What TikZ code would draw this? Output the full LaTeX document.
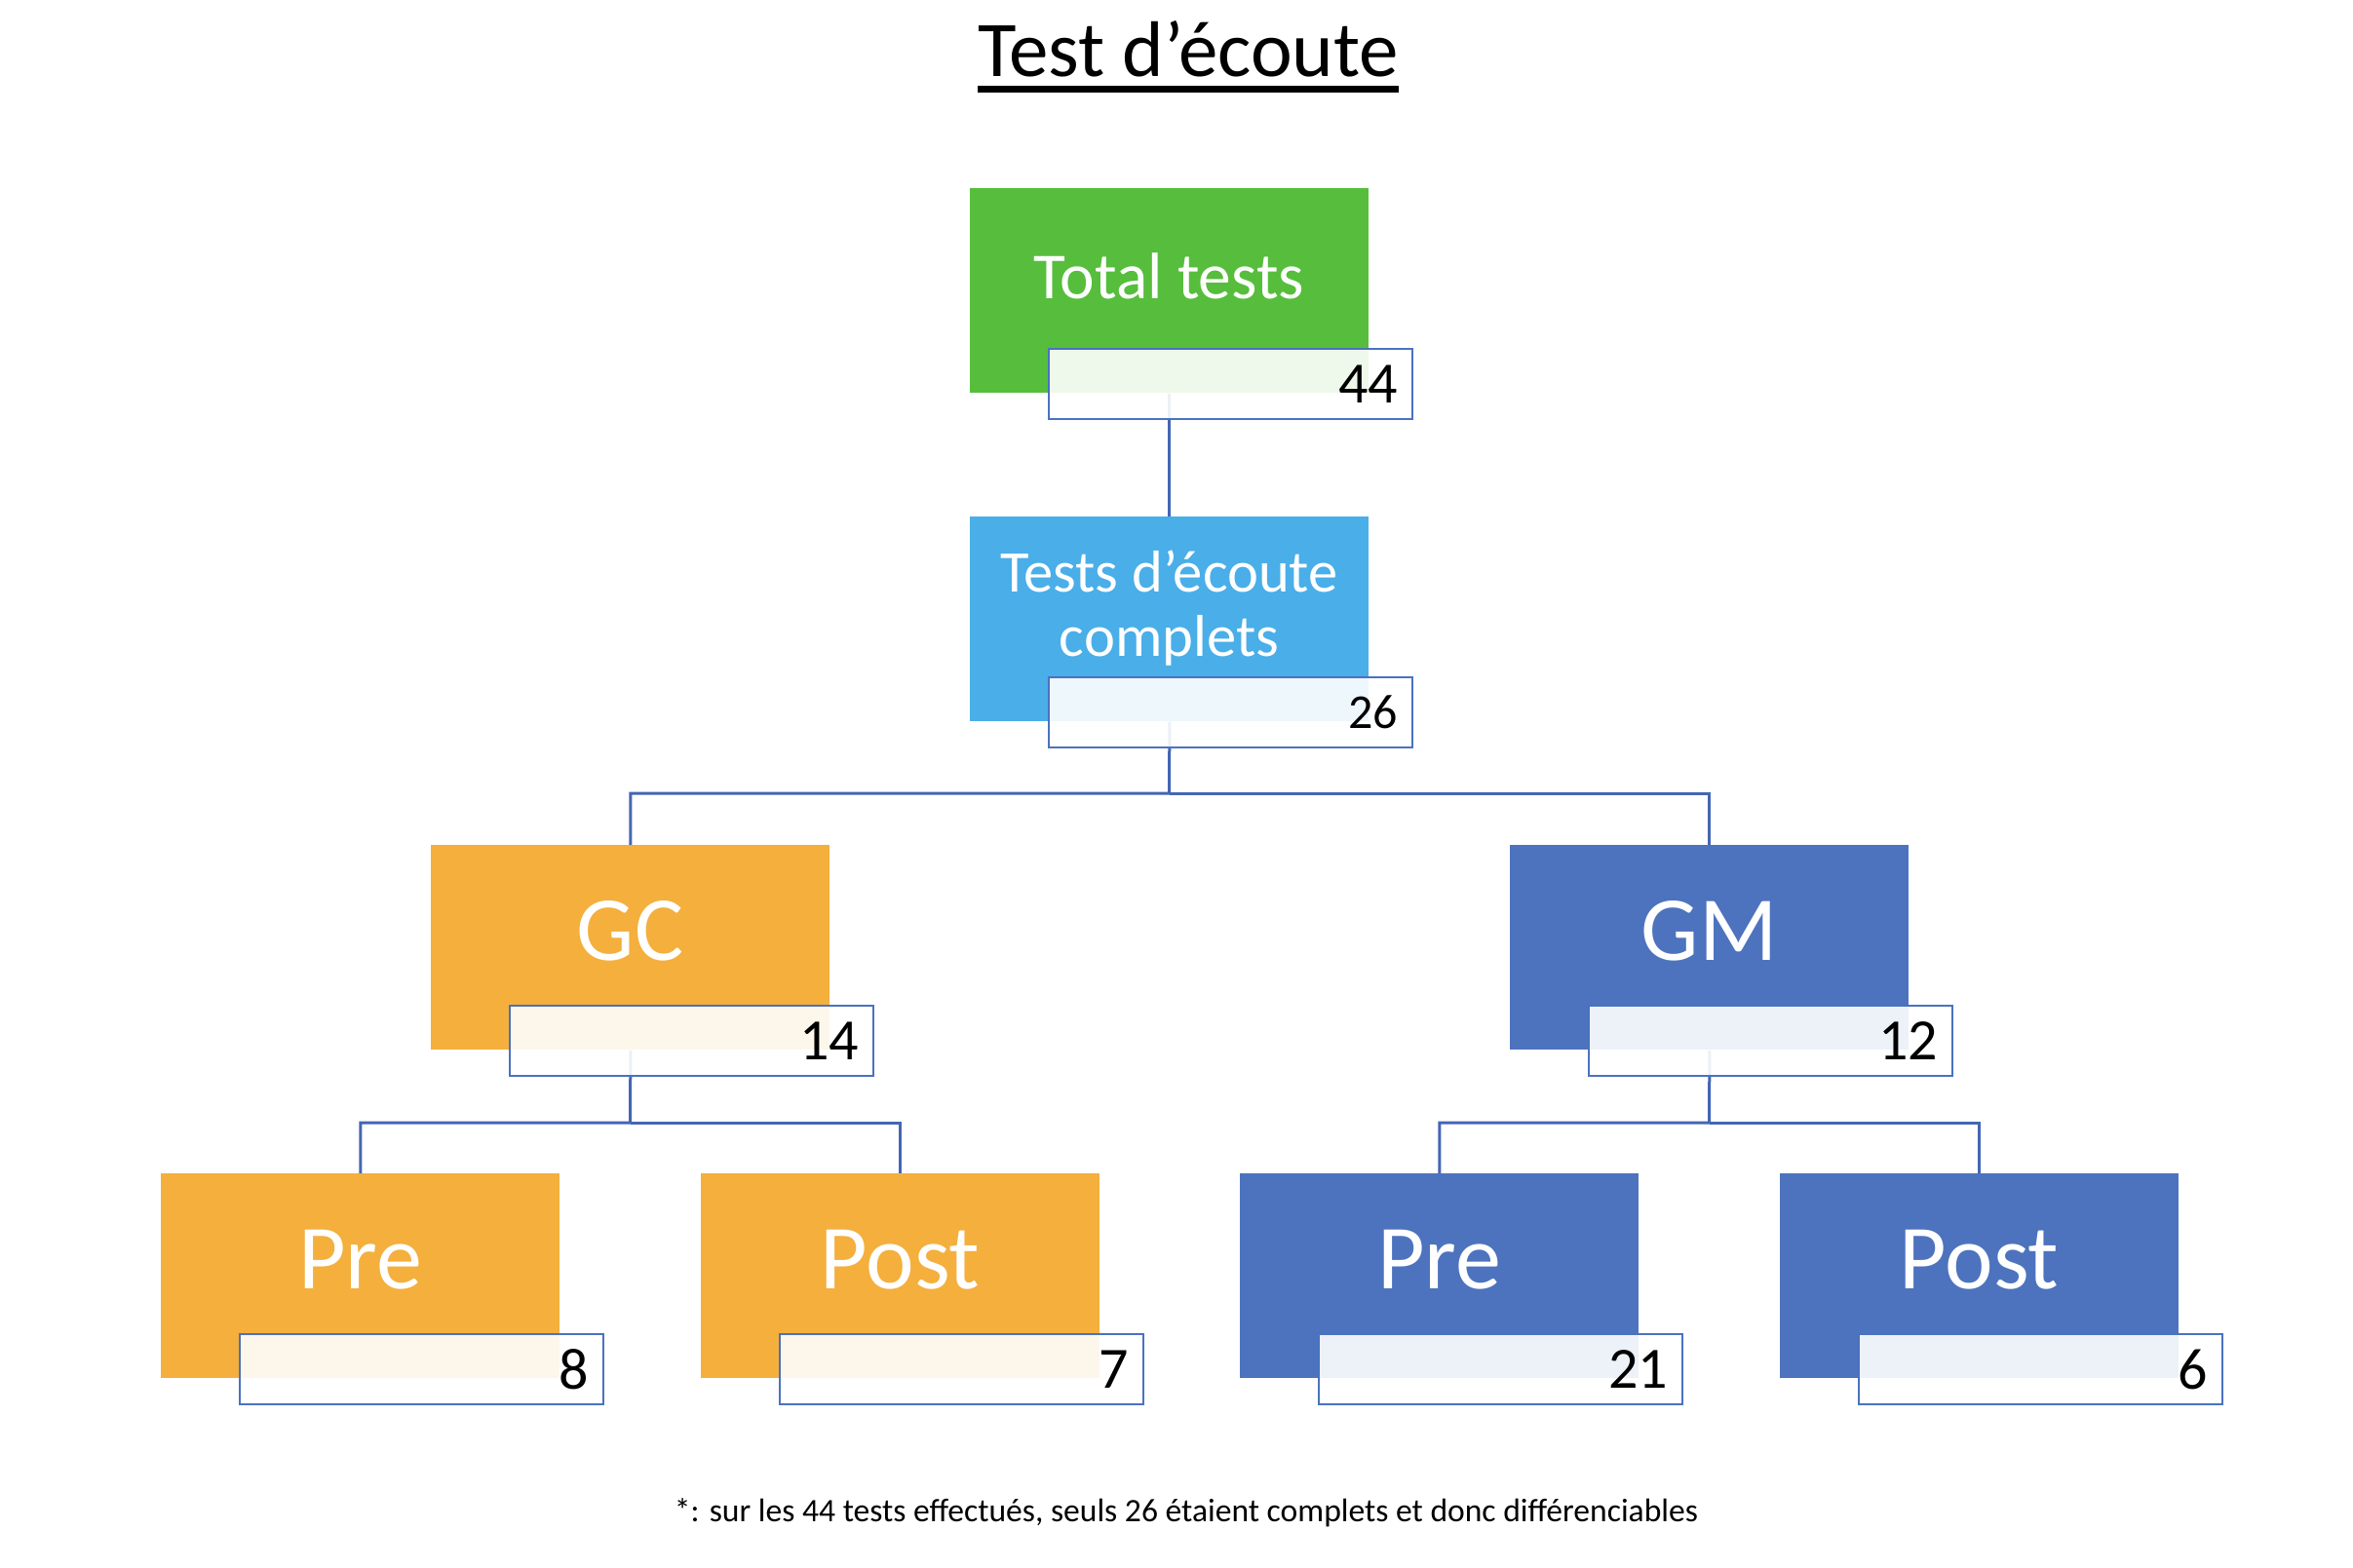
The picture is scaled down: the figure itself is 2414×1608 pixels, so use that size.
\documentclass[tikz,border=0pt]{standalone}
\usepackage{fontspec}
\setmainfont{Carlito}
\definecolor{cgreen}{HTML}{56BE3C}
\definecolor{cltblue}{HTML}{4AAEE8}
\definecolor{corange}{HTML}{F4AF3D}
\definecolor{cdkblue}{HTML}{4D73BE}
\definecolor{nbborder}{HTML}{4A72C0}
\definecolor{conncol}{HTML}{4466B4}
\begin{document}
\begin{tikzpicture}[x=0.5pt,y=-0.5pt,
  box/.style={anchor=north west, minimum width=204.5pt, minimum height=105pt, inner sep=0pt, draw=none},
  numbox/.style={anchor=north west, draw=nbborder, line width=1.2pt, fill=white, fill opacity=0.9, text opacity=1,
    minimum height=36pt, inner xsep=7.5pt, inner ysep=0pt, text width=171.5pt, align=right,
    font=\fontsize{30}{36}\selectfont},
  numsmall/.style={font=\fontsize{25}{30}\selectfont},
  lbl/.style={anchor=base, text=white, inner sep=0pt},
  lblbig/.style={lbl, font=\fontsize{47}{56}\selectfont},
  conn/.style={draw=conncol, line width=1.5pt}]
\useasboundingbox (0,0) rectangle (2414,1608);

% title
\node[anchor=base, inner sep=0pt, font=\fontsize{40.5}{48}\selectfont] (title) at (1219,78) {Test d’écoute};
\draw[line width=3.5pt] ([yshift=-6.75pt]title.base west) -- ([yshift=-6.75pt]title.base east);

% boxes
\node[box, fill=cgreen] (total) at (995,193) {};
\node[box, fill=cltblue] (tests) at (995,530) {};
\node[box, fill=corange] (gc) at (442,867) {};
\node[box, fill=cdkblue] (gm) at (1549,867) {};
\node[box, fill=corange] (pregc) at (165,1204) {};
\node[box, fill=corange] (postgc) at (719,1204) {};
\node[box, fill=cdkblue] (pregm) at (1272,1204) {};
\node[box, fill=cdkblue] (postgm) at (1826,1204) {};

% connectors
\coordinate (j1) at (1199.5,814);
\coordinate (j2) at (646.5,1152);
\coordinate (j3) at (1753.5,1152);
\draw[conn] (total.south) -- (tests.north);
\draw[conn] (tests.south) -- (j1) -| (gc.north);
\draw[conn] (j1) -| (gm.north);
\draw[conn] (gc.south) -- (j2) -| (pregc.north);
\draw[conn] (j2) -| (postgc.north);
\draw[conn] (gm.south) -- (j3) -| (pregm.north);
\draw[conn] (j3) -| (postgm.north);

% number boxes
\node[numbox] (ntotal) at (1075,357) {44};
\node[numbox, numsmall] (ntests) at (1075,694) {26};
\node[numbox] (ngc) at (522,1031) {14};
\node[numbox] (ngm) at (1629,1031) {12};
\node[numbox] (npregc) at (245,1368) {8};
\node[numbox] (npostgc) at (799,1368) {7};
\node[numbox] (npregm) at (1352,1368) {21};
\node[numbox] (npostgm) at (1906,1368) {6};

% labels
\node[lbl, font=\fontsize{33.7}{40}\selectfont] (ltotal) at (1199.5,306) {Total tests};
\node[lbl, font=\fontsize{30.3}{37}\selectfont] (ltests1) at (1199.5,607) {Tests d’écoute};
\node[lbl, font=\fontsize{30.3}{37}\selectfont] (ltests2) at (1199.5,673) {complets};
\node[lblbig] (lgc) at (646.5,985) {GC};
\node[lblbig] (lgm) at (1753.5,985) {GM};
\node[lblbig] (lpregc) at (369.5,1322) {Pre};
\node[lblbig] (lpostgc) at (923.5,1322) {Post};
\node[lblbig] (lpregm) at (1476.5,1322) {Pre};
\node[lblbig] (lpostgm) at (2030.5,1322) {Post};

% footnote
\node[anchor=base, inner sep=0pt, font=\fontsize{16.8}{20}\selectfont] (foot) at (1217,1561) {*: sur les 44 tests effectués, seuls 26 étaient complets et donc différenciables};
\end{tikzpicture}
\end{document}
